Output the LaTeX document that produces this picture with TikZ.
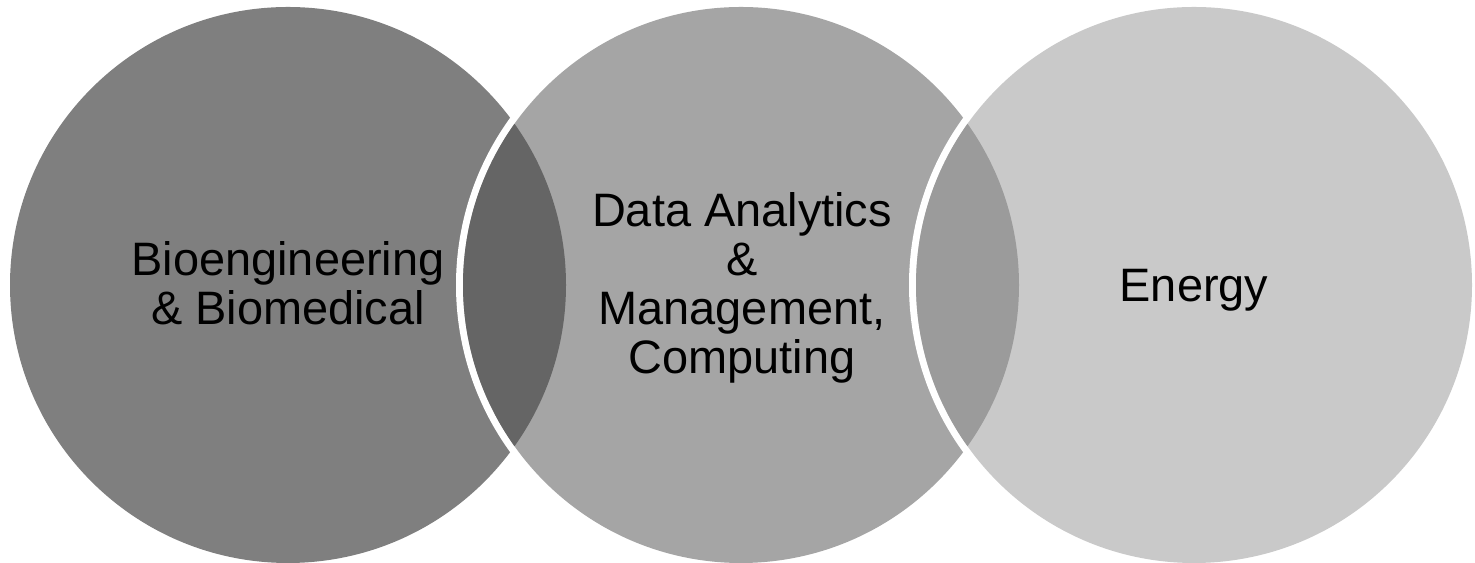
\documentclass[tikz,border=0pt]{standalone}
\usepackage{fontspec}
\setmainfont{Liberation Sans}
\definecolor{bioclr}{HTML}{7F7F7F}
\definecolor{dataclr}{HTML}{A5A5A5}
\definecolor{enclr}{HTML}{C9C9C9}
\definecolor{lensA}{HTML}{656565}
\definecolor{lensB}{HTML}{9B9B9B}
\tikzset{lbl/.style={align=center,inner sep=0pt,font=\fontsize{26.7}{27.8}\selectfont}}

\begin{document}
\begin{tikzpicture}[x=0.02cm,y=0.02cm]
\useasboundingbox (0,0) rectangle (1475,563);
\coordinate (B) at (288,278);
\coordinate (D) at (741,278);
\coordinate (E) at (1194,278);
% left circle
\fill[bioclr] (B) circle (278);
% middle circle with white rim
\fill[white] (D) circle (285);
\fill[dataclr] (D) circle (278);
\begin{scope}
\clip (B) circle (278);
\fill[lensA] (D) circle (278);
\end{scope}
% right circle with white rim
\fill[white] (E) circle (285);
\fill[enclr] (E) circle (278);
\begin{scope}
\clip (D) circle (278);
\fill[lensB] (E) circle (278);
\end{scope}
% labels
\node[lbl] (bio) at (288,280) {Bioengineering\\\& Biomedical};
\node[lbl] (data) at (742,275) {Data Analytics\\\&\\Management,\\Computing};
\node[lbl] (energy) at (1194,273) {Energy};
\end{tikzpicture}
\end{document}
